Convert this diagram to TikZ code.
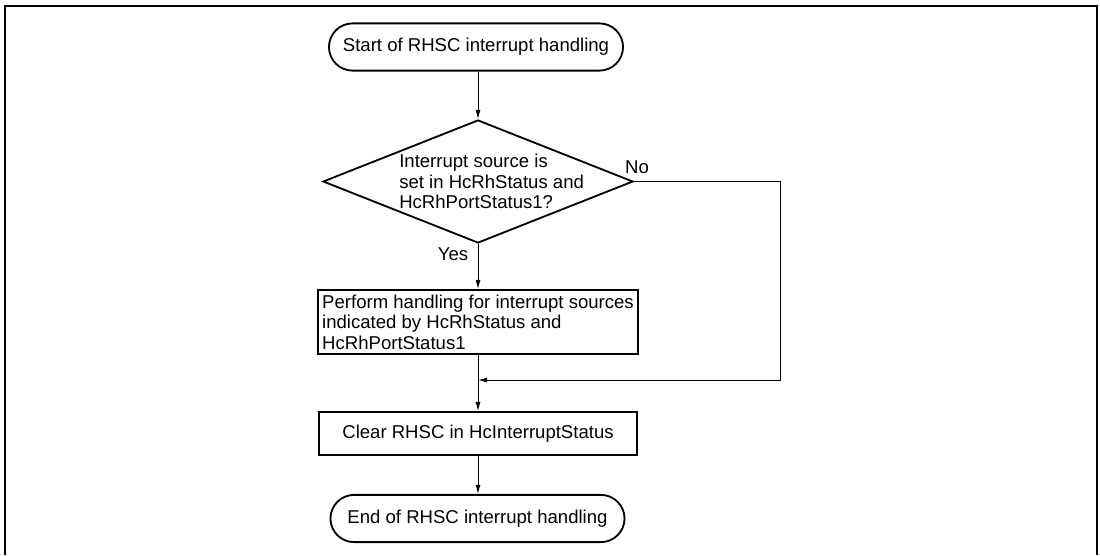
\documentclass[tikz,border=0pt]{standalone}
\usepackage{fontspec}
\setmainfont{Liberation Sans}
\usepackage{tikz}
\usetikzlibrary{positioning,arrows.meta,calc,shapes.geometric}
\tikzset{
  terminal/.style={draw,line width=1.3pt,rectangle,rounded corners=0.59cm,
    minimum width=7.35cm,minimum height=1.18cm,inner sep=0pt},
  procbox/.style={draw,line width=1.4pt,rectangle,minimum width=7.95cm,inner ysep=1pt},
  decision/.style={draw,line width=1.3pt,diamond,minimum width=7.75cm,
    minimum height=3.075cm,inner sep=0pt},
  flow/.style={line width=0.7pt,-{Latex[length=6.5pt,width=3.6pt]}},
}
\begin{document}
\begin{tikzpicture}[x=0.025cm,y=-0.025cm,font=\fontsize{13.2}{14.6}\selectfont]
\useasboundingbox (0,0) rectangle (1100,555);
% ---- outer frame (open at the bottom) ----
\draw[line width=1.5pt] (5,555) -- (5,5.7) -- (1097,5.7) -- (1097,555);
% ---- flow nodes, top to bottom ----
\node[terminal] (start) at (476,47) {Start of RHSC interrupt handling};
\node[decision] (chk) at (478,181.5) {};
\node[anchor=west,align=left,inner sep=0pt] (chktxt) at (399,181.5)
  {Interrupt source is\\ set in HcRhStatus and\\ HcRhPortStatus1?};
\node[procbox,align=left,minimum height=1.6cm] (handle) at (478,322)
  {Perform handling for interrupt sources\\ indicated by HcRhStatus and\\ HcRhPortStatus1};
\node[procbox,minimum height=1.075cm] (clear) at (478,433.5) {Clear RHSC in HcInterruptStatus};
\node[terminal] (stop) at (477.5,518.5) {End of RHSC interrupt handling};
% ---- branch labels ----
\node[inner sep=0pt] (nolbl) at (637,167) {No};
\node[inner sep=0pt] (yeslbl) at (453,254) {Yes};
% ---- connectors ----
\coordinate (nocorner) at (780,181.5);
\coordinate (join) at (478,380);
\draw[flow] (start.south -| chk.north) -- (chk.north);
\draw[flow] (chk.south) -- (handle.north);
\draw[flow] (handle.south) -- (clear.north);
\draw[flow] (chk.east) -- (nocorner) |- (join);
\draw[flow] (clear.south) -- (clear.south |- stop.north);
\end{tikzpicture}
\end{document}
